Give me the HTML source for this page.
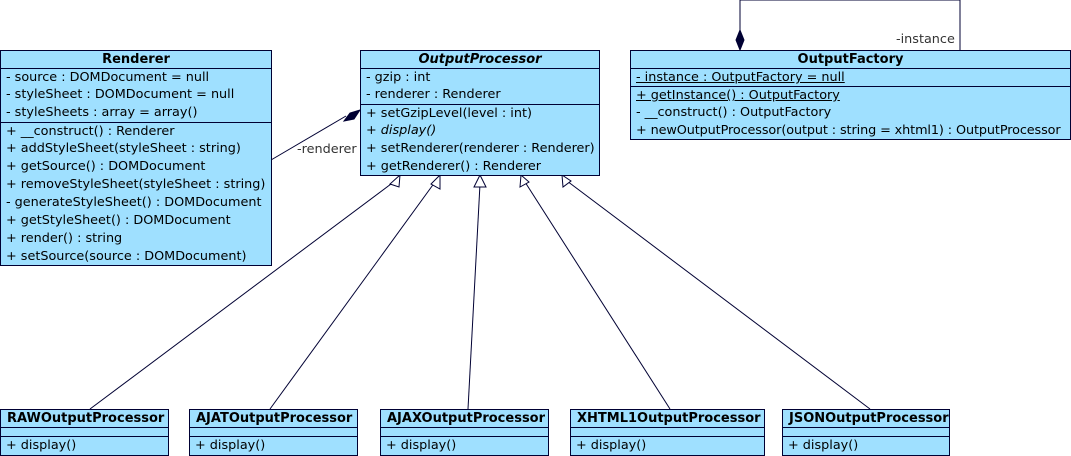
<!DOCTYPE html>
<html><head><style>
body{margin:0;width:1071px;height:455px;background:#fff;position:relative;overflow:hidden;font-family:"DejaVu Sans","Liberation Sans",sans-serif;font-size:12.8px;color:#000}
.b{position:absolute;background:#9fe0ff;border:1px solid #000033;box-sizing:border-box;overflow:hidden}
.h{height:17px;line-height:17px;text-align:center;font-weight:bold;font-size:13px}
.s{border-top:1px solid #000033;padding:0 5px}
.r{height:18px;line-height:17px;white-space:nowrap}
.s .r:first-child{height:17px}
.u{text-decoration:underline}
svg{position:absolute;left:0;top:0}
.l{position:absolute;color:#333;font-size:12.8px}
</style></head><body>
<svg width="1071" height="455">
<g stroke="#000033" fill="none">
<polyline points="740,32 740,0 960,0 960,50"/>
<line x1="271" y1="160" x2="346" y2="116"/>
<line x1="90" y1="409" x2="395" y2="181"/>
<line x1="270" y1="409" x2="435" y2="182"/>
<line x1="468" y1="409" x2="480" y2="184"/>
<line x1="670" y1="409" x2="525" y2="182"/>
<line x1="870" y1="409" x2="567" y2="181"/>
</g>
<g fill="#000033" stroke="#000033">
<polygon points="740,30 744,40 740,50 736,40"/>
<polygon points="360,110 354,119 344,121 350,113"/>
</g>
<g fill="#fff" stroke="#000033">
<polygon points="400,175 390,184 399,187"/>
<polygon points="440,175 431,184 440,189"/>
<polygon points="480,175 474,187 486,187"/>
<polygon points="521,175 520,187 529,182"/>
<polygon points="562,175 563,187 571,181"/>
</g>
</svg>
<div class="l" style="left:297px;top:142px">-renderer</div>
<div class="l" style="left:896px;top:32px">-instance</div>

<div class="b" style="left:0;top:50px;width:272px;height:216px">
<div class="h">Renderer</div>
<div class="s"><div class="r">- source : DOMDocument = null</div><div class="r">- styleSheet : DOMDocument = null</div><div class="r">- styleSheets : array = array()</div></div>
<div class="s"><div class="r">+ __construct() : Renderer</div><div class="r">+ addStyleSheet(styleSheet : string)</div><div class="r">+ getSource() : DOMDocument</div><div class="r">+ removeStyleSheet(styleSheet : string)</div><div class="r">- generateStyleSheet() : DOMDocument</div><div class="r">+ getStyleSheet() : DOMDocument</div><div class="r">+ render() : string</div><div class="r">+ setSource(source : DOMDocument)</div></div>
</div>

<div class="b" style="left:360px;top:50px;width:240px;height:126px">
<div class="h"><i>OutputProcessor</i></div>
<div class="s"><div class="r">- gzip : int</div><div class="r">- renderer : Renderer</div></div>
<div class="s"><div class="r">+ setGzipLevel(level : int)</div><div class="r"><i>+ display()</i></div><div class="r">+ setRenderer(renderer : Renderer)</div><div class="r">+ getRenderer() : Renderer</div></div>
</div>

<div class="b" style="left:630px;top:50px;width:441px;height:90px">
<div class="h">OutputFactory</div>
<div class="s"><div class="r u">- instance : OutputFactory = null</div></div>
<div class="s"><div class="r u">+ getInstance() : OutputFactory</div><div class="r">- __construct() : OutputFactory</div><div class="r" style="letter-spacing:-0.1px">+ newOutputProcessor(output : string = xhtml1) : OutputProcessor</div></div>
</div>

<div class="b" style="left:0;top:409px;width:169px;height:47px"><div class="h" style="text-align:left;padding-left:6px">RAWOutputProcessor</div><div class="s" style="height:8px"></div><div class="s"><div class="r">+ display()</div></div></div>
<div class="b" style="left:189px;top:409px;width:169px;height:47px"><div class="h" style="text-align:left;padding-left:6px">AJATOutputProcessor</div><div class="s" style="height:8px"></div><div class="s"><div class="r">+ display()</div></div></div>
<div class="b" style="left:380px;top:409px;width:169px;height:47px"><div class="h" style="text-align:left;padding-left:6px">AJAXOutputProcessor</div><div class="s" style="height:8px"></div><div class="s"><div class="r">+ display()</div></div></div>
<div class="b" style="left:570px;top:409px;width:195px;height:47px"><div class="h" style="text-align:left;padding-left:6px">XHTML1OutputProcessor</div><div class="s" style="height:8px"></div><div class="s"><div class="r">+ display()</div></div></div>
<div class="b" style="left:782px;top:409px;width:168px;height:47px"><div class="h" style="text-align:left;padding-left:6px">JSONOutputProcessor</div><div class="s" style="height:8px"></div><div class="s"><div class="r">+ display()</div></div></div>
</body></html>
